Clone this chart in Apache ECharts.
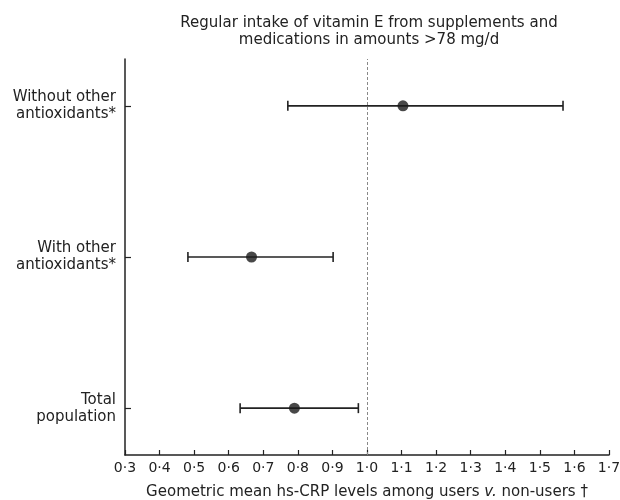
<!DOCTYPE html>
<html><head><meta charset="utf-8">
<script src="https://cdn.jsdelivr.net/npm/echarts@6/dist/echarts.min.js"></script>
<style>html,body{margin:0;padding:0;background:#fff}#c{width:620px;height:500px}</style>
</head><body><div id="c"></div>
<script>
// Data (bottom to top)
const categories = ["Total\npopulation", "With other\nantioxidants*", "Without other\nantioxidants*"];
const means = [0.790, 0.666, 1.104];
const lower = [0.633, 0.482, 0.771];
const upper = [0.975, 0.902, 1.567];
const xTicks = [0.3,0.4,0.5,0.6,0.7,0.8,0.9,1.0,1.1,1.2,1.3,1.4,1.5,1.6,1.7];
const refLine = 1.0;
const titleText = "Regular intake of vitamin E from supplements and\nmedications in amounts >78 mg/d";
const xNameParts = ["Geometric mean hs-CRP levels among users ", "v.", " non-users \u2020"];

const FONT = "DejaVu Sans";
const FS = 15;
const chart = echarts.init(document.getElementById('c'), null, {renderer:'canvas'});
const errData = categories.map((c,i)=>[i, lower[i], upper[i]]);
const ptData = categories.map((c,i)=>[means[i], i]);

chart.setOption({
  animation:false,
  backgroundColor:'#fff',
  title:{text:titleText,left:364,top:10,textAlign:'center',
    textStyle:{fontFamily:FONT,fontSize:FS,fontWeight:'normal',color:'#222',lineHeight:17}},
  grid:{left:125,right:11,top:59,bottom:45,containLabel:false,outerBoundsMode:'none'},
  xAxis:{type:'value',min:0.3,max:1.7,interval:0.1,
    name:xNameParts[0]+'{i|'+xNameParts[1]+'}'+xNameParts[2],
    nameLocation:'middle',nameGap:30,
    nameTextStyle:{fontFamily:FONT,fontSize:FS,color:'#222',
      rich:{i:{fontFamily:FONT,fontSize:FS,color:'#222',fontStyle:'italic'}}},
    axisLine:{onZero:false,lineStyle:{color:'#222',width:1.5}},
    axisTick:{inside:true,length:5,lineStyle:{color:'#222',width:1.2}},
    axisLabel:{fontFamily:FONT,fontSize:14,color:'#222',margin:6,
      customValues:xTicks,
      formatter:v=>v.toFixed(1).replace('.','\u00b7')},
    splitLine:{show:false}},
  yAxis:{type:'value',min:-0.31,max:2.31,
    axisLine:{show:true,onZero:false,lineStyle:{color:'#222',width:1.5}},
    axisTick:{show:true,inside:true,length:6,customValues:[0,1,2],lineStyle:{color:'#222',width:1.2}},
    axisLabel:{fontFamily:FONT,fontSize:FS,color:'#222',margin:9,lineHeight:17,align:'right',
      customValues:[0,1,2],
      formatter:v=>categories[Math.round(v)]},
    splitLine:{show:false}},
  series:[
    {type:'custom',data:errData,silent:true,z:2,
      renderItem:function(params,api){
        const y=api.value(0);
        const p1=api.coord([api.value(1),y]);
        const p2=api.coord([api.value(2),y]);
        const h=5;
        const st={stroke:'#222',lineWidth:1.6};
        return {type:'group',children:[
          {type:'line',shape:{x1:p1[0],y1:p1[1],x2:p2[0],y2:p2[1]},style:st},
          {type:'line',shape:{x1:p1[0],y1:p1[1]-h,x2:p1[0],y2:p1[1]+h},style:st},
          {type:'line',shape:{x1:p2[0],y1:p2[1]-h,x2:p2[0],y2:p2[1]+h},style:st}
        ]};
      },
      encode:{x:[1,2],y:0},
      markLine:{silent:true,symbol:'none',label:{show:false},
        lineStyle:{type:[3,2],color:'#888',width:1},
        data:[{xAxis:refLine}]}
    },
    {type:'scatter',data:ptData,symbol:'circle',symbolSize:11,z:3,
      itemStyle:{color:'#1a1a1a'}}
  ]
});
</script></body></html>
